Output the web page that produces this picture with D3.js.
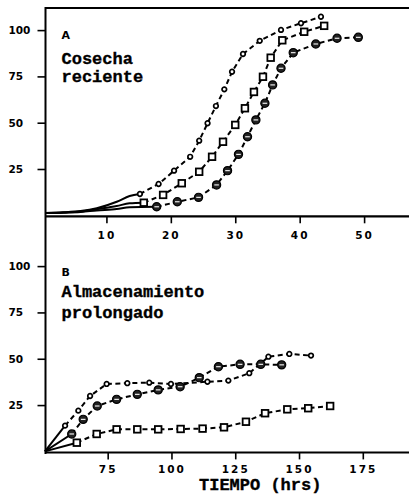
<!DOCTYPE html>
<html>
<head>
<meta charset="utf-8">
<script src="https://cdn.jsdelivr.net/npm/d3@7"></script>
<style>
  body { margin: 0; background: #fff; }
  svg { display: block; }
</style>
</head>
<body>
<div class="canvas"></div>
<script>
// tick values
const ticksA = [10, 20, 30, 40, 50]
const ticksB = [75, 100, 125, 150, 175]
const ticksY = [25, 50, 75, 100]

// A - cosecha reciente  [tiempo (hrs), %]
const recienteCirculo = [[15.2, 11.5], [18.1, 16.9], [20.5, 24.1], [23.0, 31.6], [24.4, 40.3], [25.7, 49.7], [27.0, 59.0],
  [28.3, 68.0], [29.5, 77.5], [31.2, 87.1], [33.8, 94.2], [37.1, 100.1], [40.2, 103.7], [43.3, 107.2]]
const recienteCuadro = [[15.8, 6.8], [18.8, 11.0], [21.7, 17.3], [24.4, 23.5], [26.4, 31.6], [28.1, 39.7], [30.0, 48.8],
  [31.5, 57.8], [32.9, 66.6], [34.3, 74.8], [35.5, 85.1], [37.3, 94.5], [40.7, 99.1], [43.8, 102.3]]
const recienteCruz = [[17.8, 4.6], [21.0, 7.3], [24.3, 9.7], [27.1, 16.4], [28.8, 24.1], [30.5, 32.9], [31.9, 42.4],
  [33.2, 51.5], [34.6, 60.5], [35.8, 70.4], [37.1, 79.4], [39.0, 87.8], [42.5, 92.5], [45.8, 95.6], [49.1, 96.1]]
// solid start of the curves (no markers)
const inicioCirculo = [[0.5, 1.2], [3.3, 1.6], [6, 2.3], [8.5, 3.8], [11.6, 7.3], [13.6, 10.4], [15.2, 11.5]]
const inicioCuadro = [[0.5, 1.2], [3.3, 1.5], [6, 2.0], [8.5, 3.3], [11.6, 5.0], [13.6, 6.5], [15.8, 6.8]]
const inicioCruz = [[0.5, 1.2], [3.3, 1.4], [6, 1.8], [8.5, 2.6], [11.6, 3.4], [13.6, 4.4], [17.8, 4.6]]

// B - almacenamiento prolongado
const prolongadoCirculo = [[58.3, 13.9], [63.5, 22.0], [68.1, 29.9], [74.6, 36.4], [82.7, 36.8], [91.3, 37.1], [99.8, 36.4],
  [114.1, 37.6], [122.3, 38.2], [130.5, 42.2], [138.0, 51.1], [146.2, 52.6], [154.7, 51.7]]
const prolongadoCruz = [[60.9, 9.4], [65.4, 17.3], [70.9, 24.5], [78.5, 28.1], [86.6, 30.8], [94.8, 33.2], [103.4, 34.9],
  [110.9, 39.8], [118.4, 45.7], [126.9, 47.0], [135.0, 47.0], [143.2, 46.7]]
const prolongadoCuadro = [[62.9, 4.7], [70.7, 9.4], [78.5, 11.9], [86.6, 11.9], [94.8, 11.9], [103.6, 12.1], [112.2, 12.3],
  [120.6, 13.0], [129.2, 16.0], [136.7, 20.6], [145.4, 22.7], [153.6, 23.3], [162.2, 24.5]]
const origenB = [50.4, 0]

const svg = d3.select('.canvas')
  .append('svg')
  .attr('width', 409)
  .attr('height', 495)

// scales
const xA = d3.scaleLinear().domain([0, 50]).range([42, 364.1])
const yA = d3.scaleLinear().domain([0, 100]).range([215.3, 30.1])
const xB = d3.scaleLinear().domain([50, 175]).range([43.9, 362.8])
const yB = d3.scaleLinear().domain([0, 100]).range([451.4, 266.1])

const axisX = 45.5

// frame lines
svg.append('line').attr('x1', axisX).attr('x2', 409).attr('y1', 8).attr('y2', 8)
  .attr('stroke', '#000').attr('stroke-width', 2)
svg.append('line').attr('x1', axisX).attr('x2', axisX).attr('y1', 7).attr('y2', 454)
  .attr('stroke', '#000').attr('stroke-width', 2)
svg.append('line').attr('x1', axisX).attr('x2', 409).attr('y1', yA(0) + 1).attr('y2', yA(0) + 1)
  .attr('stroke', '#000').attr('stroke-width', 2.2)
svg.append('line').attr('x1', axisX).attr('x2', 409).attr('y1', yB(0) + 1).attr('y2', yB(0) + 1)
  .attr('stroke', '#000').attr('stroke-width', 2)

const styleAxis = (g, textX, textY, anchor, spacing) => {
  g.select('.domain').remove()
  g.selectAll('.tick line').attr('stroke', '#000').attr('stroke-width', 1.6)
  g.selectAll('.tick text')
    .attr('font-family', 'DejaVu Sans')
    .attr('font-weight', 'bold')
    .attr('font-size', '10.5px')
    .attr('fill', '#000')
    .attr('text-anchor', anchor)
    .attr('letter-spacing', spacing)
  if (textX !== null) g.selectAll('.tick text').attr('x', textX)
  if (textY !== null) g.selectAll('.tick text').attr('y', textY).attr('dy', 0)
}

// y axes
const yAxisA = svg.append('g').attr('transform', `translate(${axisX}, 0)`)
  .call(d3.axisLeft(yA).tickValues(ticksY).tickSize(8))
styleAxis(yAxisA, -37, null, 'start', 0)
const yAxisB = svg.append('g').attr('transform', `translate(${axisX}, 0)`)
  .call(d3.axisLeft(yB).tickValues(ticksY).tickSize(8))
styleAxis(yAxisB, -37, null, 'start', 0)

// x axes
const xAxisA = svg.append('g').attr('transform', `translate(0, ${yA(0) + 1})`)
  .call(d3.axisBottom(xA).tickValues(ticksA).tickSize(7))
styleAxis(xAxisA, null, 22.5, 'middle', '2px')
const xAxisB = svg.append('g').attr('transform', `translate(0, ${yB(0) + 1})`)
  .call(d3.axisBottom(xB).tickValues(ticksB).tickSize(7))
styleAxis(xAxisB, null, 20.5, 'middle', '2px')

// lines and markers
const drawLine = (data, x, y, dashed) => {
  const line = d3.line().x(d => x(d[0])).y(d => y(d[1]))
    .curve(dashed ? d3.curveLinear : d3.curveMonotoneX)
  svg.append('path')
    .attr('d', line(data))
    .attr('fill', 'none')
    .attr('stroke', '#000')
    .attr('stroke-width', 2)
    .attr('stroke-dasharray', dashed ? '5,3.5' : null)
}

const drawMarkers = (data, x, y, type) => {
  const g = svg.append('g')
  const pts = g.selectAll('g').data(data).enter().append('g')
    .attr('transform', d => `translate(${x(d[0])}, ${y(d[1])})`)
  if (type === 'circulo') {
    pts.append('circle').attr('r', 2.3).attr('fill', '#fff')
      .attr('stroke', '#000').attr('stroke-width', 1.7)
  } else if (type === 'cuadro') {
    pts.append('rect').attr('x', -3.3).attr('y', -3.3).attr('width', 6.6).attr('height', 6.6)
      .attr('fill', '#fff').attr('stroke', '#000').attr('stroke-width', 1.8)
  } else {
    pts.append('circle').attr('r', 4.1).attr('fill', '#222')
      .attr('stroke', '#000').attr('stroke-width', 1.2)
    pts.append('line').attr('x1', -2.3).attr('x2', 2.3).attr('y1', 0).attr('y2', 0)
      .attr('stroke', '#fff').attr('stroke-width', 1.1)
  }
}

// panel A
drawLine(inicioCirculo, xA, yA, false)
drawLine(inicioCuadro, xA, yA, false)
drawLine(inicioCruz, xA, yA, false)
drawLine(recienteCirculo, xA, yA, true)
drawLine(recienteCuadro, xA, yA, true)
drawLine(recienteCruz, xA, yA, true)
drawMarkers(recienteCirculo, xA, yA, 'circulo')
drawMarkers(recienteCuadro, xA, yA, 'cuadro')
drawMarkers(recienteCruz, xA, yA, 'cruz')

// panel B
;[prolongadoCirculo, prolongadoCruz, prolongadoCuadro].forEach(s => {
  drawLine([origenB, s[0]], xB, yB, false)
  drawLine(s, xB, yB, true)
})
drawMarkers(prolongadoCirculo, xB, yB, 'circulo')
drawMarkers(prolongadoCuadro, xB, yB, 'cuadro')
drawMarkers(prolongadoCruz, xB, yB, 'cruz')

// labels
const letra = (txt, x, y) => svg.append('text').text(txt)
  .attr('x', x).attr('y', y)
  .attr('font-family', 'DejaVu Sans').attr('font-weight', 'bold').attr('font-size', '11px')
const texto = (txt, x, y, size) => svg.append('text').text(txt)
  .attr('x', x).attr('y', y)
  .attr('font-family', 'Liberation Mono').attr('font-weight', 'bold').attr('font-size', size)
  .attr('stroke', '#000').attr('stroke-width', 0.35)

letra('A', 61.5, 39)
texto('Cosecha', 61.5, 63.5, '17px')
texto('reciente', 61.5, 81.5, '17px')
letra('B', 61.5, 276)
texto('Almacenamiento', 61.5, 296.5, '17px')
texto('prolongado', 61.5, 317.5, '17px')
texto('TIEMPO (hrs)', 199, 489.5, '17px')
</script>
</body>
</html>
